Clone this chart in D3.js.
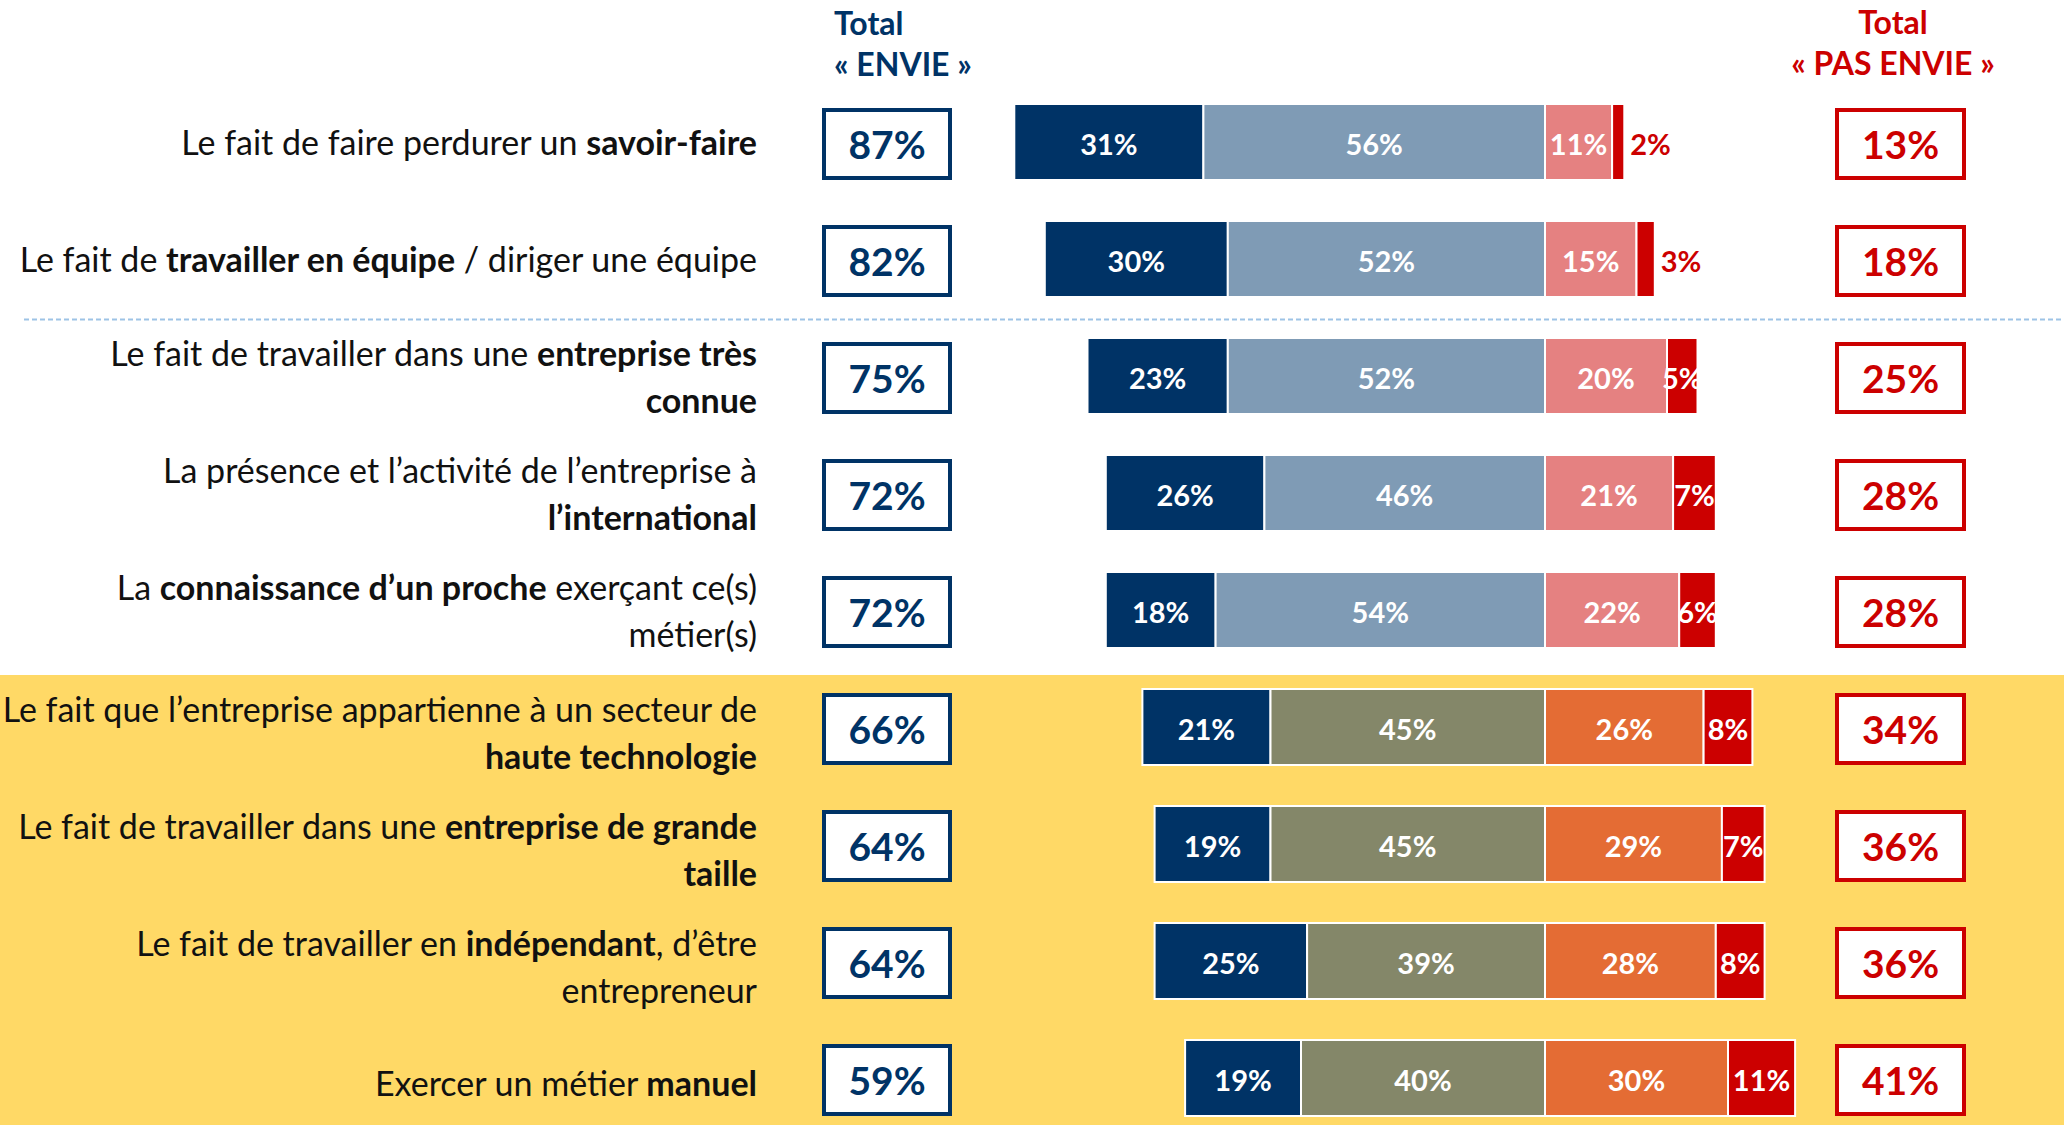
<!DOCTYPE html>
<html>
<head>
<meta charset="utf-8">
<script src="https://cdn.jsdelivr.net/npm/d3@7"></script>
<style>
  html, body { margin: 0; padding: 0; background: #ffffff; }
  svg { display: block; }
  text { font-family: Lato, "Open Sans", "Noto Sans", sans-serif; }
</style>
</head>
<body>
<svg id="chart" width="2064" height="1125"></svg>
<script>
// ---- Data ----
const categories = [
  "Le fait de faire perdurer un **savoir-faire**",
  "Le fait de **travailler en équipe** / diriger une équipe",
  "Le fait de travailler dans une **entreprise très**|**connue**",
  "La présence et l’activité de l’entreprise à|**l’international**",
  "La **connaissance d’un proche** exerçant ce(s)|métier(s)",
  "Le fait que l’entreprise appartienne à un secteur de|**haute technologie**",
  "Le fait de travailler dans une **entreprise de grande**|**taille**",
  "Le fait de travailler en **indépendant**, d’être|entrepreneur",
  "Exercer un métier **manuel**"
];
const tresEnvie     = [31, 30, 23, 26, 18, 21, 19, 25, 19];
const plutotEnvie   = [56, 52, 52, 46, 54, 45, 45, 39, 40];
const plutotPas     = [11, 15, 20, 21, 22, 26, 29, 28, 30];
const pasDuTout     = [2, 3, 5, 7, 6, 8, 7, 8, 11];
const totalEnvie    = [87, 82, 75, 72, 72, 66, 64, 64, 59];
const totalPasEnvie = [13, 18, 25, 28, 28, 34, 36, 36, 41];
const highlightedRows = [false, false, false, false, false, true, true, true, true];
const headerEnvie = ["Total", "« ENVIE »"];
const headerPasEnvie = ["Total", "« PAS ENVIE »"];

// ---- Styles ----
const NAVY = "#003366", RED = "#CC0000";
const paletteWhite  = [NAVY, "#7F9BB5", "#E58181", RED];
const paletteYellow = [NAVY, "#848769", "#E46C34", RED];
const YELLOW = "#FFD966";

const svg = d3.select("#chart");
const W = 2064, H = 1125;

const x = d3.scaleLinear().domain([-100, 100]).range([1545 - 610, 1545 + 610]);
const y = d3.scalePoint().domain(d3.range(categories.length)).range([142, 1078]);
const barH = 76;

// Yellow highlighted band
const firstHi = highlightedRows.indexOf(true);
svg.append("rect")
  .attr("x", 0).attr("y", y(firstHi) - 52)
  .attr("width", W).attr("height", H - (y(firstHi) - 52))
  .attr("fill", YELLOW);

// Dotted separator between row 2 and 3
svg.append("line")
  .attr("x1", 24).attr("x2", W)
  .attr("y1", (y(1) + y(2)) / 2 + 2).attr("y2", (y(1) + y(2)) / 2 + 2)
  .attr("stroke", "#9DC3E6").attr("stroke-width", 2)
  .attr("stroke-dasharray", "5,3");

// Headers
const hdrE = svg.append("text").attr("fill", NAVY).attr("font-weight", 700)
  .attr("font-size", 32).attr("x", 834);
hdrE.append("tspan").attr("x", 834).attr("y", 35).text(headerEnvie[0]);
hdrE.append("tspan").attr("x", 834).attr("y", 76).text(headerEnvie[1]);

const hdrP = svg.append("text").attr("fill", RED).attr("font-weight", 700)
  .attr("font-size", 32).attr("text-anchor", "middle");
hdrP.append("tspan").attr("x", 1893).attr("y", 34).text(headerPasEnvie[0]);
hdrP.append("tspan").attr("x", 1893).attr("y", 75).text(headerPasEnvie[1]);

// Rows
const rows = d3.range(categories.length).map(i => {
  const v = [tresEnvie[i], plutotEnvie[i], plutotPas[i], pasDuTout[i]];
  const segs = [
    { k: 0, x0: -(v[0] + v[1]), x1: -v[1], v: v[0] },
    { k: 1, x0: -v[1], x1: 0, v: v[1] },
    { k: 2, x0: 0, x1: v[2], v: v[2] },
    { k: 3, x0: v[2], x1: v[2] + v[3], v: v[3] }
  ];
  return { i, segs, hi: highlightedRows[i] };
});

const g = svg.selectAll("g.row").data(rows).join("g").attr("class", "row");

g.selectAll("rect.seg").data(d => d.segs.map(s => ({ ...s, i: d.i, hi: d.hi })))
  .join("rect").attr("class", "seg")
  .attr("x", s => x(s.x0)).attr("width", s => x(s.x1) - x(s.x0))
  .attr("y", s => y(s.i) - barH / 2).attr("height", barH)
  .attr("fill", s => (s.hi ? paletteYellow : paletteWhite)[s.k])
  .attr("stroke", "#ffffff").attr("stroke-width", 2);

g.selectAll("text.val").data(d => d.segs.map(s => ({ ...s, i: d.i })))
  .join("text").attr("class", "val")
  .attr("font-size", 29).attr("font-weight", 700)
  .attr("dominant-baseline", "central")
  .attr("x", s => s.v < 4 ? x(s.x1) + 6 : (x(s.x0) + x(s.x1)) / 2)
  .attr("y", s => y(s.i) + 1)
  .attr("text-anchor", s => s.v < 4 ? "start" : "middle")
  .attr("fill", s => s.v < 4 ? RED : "#ffffff")
  .text(s => s.v + "%");

// Total boxes
const boxW = 126, boxH = 68;
g.append("rect")
  .attr("x", 824).attr("y", d => y(d.i) - boxH / 2 + 2)
  .attr("width", boxW).attr("height", boxH)
  .attr("fill", "#ffffff").attr("stroke", NAVY).attr("stroke-width", 4);
g.append("text")
  .attr("x", 824 + boxW / 2).attr("y", d => y(d.i) + 2)
  .attr("text-anchor", "middle").attr("dominant-baseline", "central")
  .attr("font-size", 39).attr("font-weight", 700).attr("fill", NAVY)
  .text(d => totalEnvie[d.i] + "%");

g.append("rect")
  .attr("x", 1837).attr("y", d => y(d.i) - boxH / 2 + 2)
  .attr("width", boxW + 1).attr("height", boxH)
  .attr("fill", "#ffffff").attr("stroke", RED).attr("stroke-width", 4);
g.append("text")
  .attr("x", 1837 + (boxW + 1) / 2).attr("y", d => y(d.i) + 2)
  .attr("text-anchor", "middle").attr("dominant-baseline", "central")
  .attr("font-size", 39).attr("font-weight", 700).attr("fill", RED)
  .text(d => totalPasEnvie[d.i] + "%");

// Category labels (rich text, right aligned)
const labelX = 757, lineGap = 47, labelSize = 34;
g.each(function(d) {
  const lines = categories[d.i].split("|");
  const n = lines.length;
  const dy = d.hi ? 6 : 1;
  const t = d3.select(this).append("text")
    .attr("text-anchor", "end").attr("font-size", labelSize).attr("fill", "#111111");
  lines.forEach((ln, li) => {
    const cy = y(d.i) + dy + (li - (n - 1) / 2) * lineGap;
    const parts = ln.split("**");
    parts.forEach((p, pi) => {
      if (!p) return;
      const ts = t.append("tspan").text(p)
        .attr("font-weight", pi % 2 === 1 ? 700 : 400);
      if (pi === 0 || (pi === 1 && parts[0] === "")) {
        ts.attr("x", labelX).attr("y", cy + labelSize * 0.36);
      }
    });
  });
});
</script>
</body>
</html>
